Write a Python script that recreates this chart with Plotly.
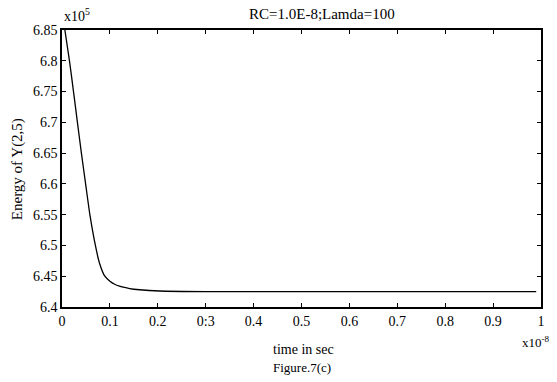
import plotly.graph_objects as go

# data (time in units of 1e-8 s, energy in units of 1e5)
time_vals = [0.006, 0.0156, 0.024, 0.0322, 0.0405, 0.0493, 0.0582, 0.0697, 0.078, 0.0894,
             0.100, 0.110, 0.120, 0.130, 0.141, 0.162, 0.204, 0.30, 0.50, 0.70, 0.90, 0.99]
energy_vals = [6.850, 6.800, 6.750, 6.700, 6.650, 6.600, 6.550, 6.500, 6.472, 6.450,
               6.442, 6.437, 6.434, 6.432, 6.430, 6.428, 6.426, 6.425, 6.425, 6.425, 6.425, 6.425]
x_ticks = [0, 0.1, 0.2, 0.3, 0.4, 0.5, 0.6, 0.7, 0.8, 0.9, 1]
x_tick_text = ["0", "0.1", "0.2", "0:3", "0.4", "0.5", "0.6", "0.7", "0.8", "0.9", "1"]
y_ticks = [6.4, 6.45, 6.5, 6.55, 6.6, 6.65, 6.7, 6.75, 6.8, 6.85]
y_tick_text = ["6.4", "6.45", "6.5", "6.55", "6.6", "6.65", "6.7", "6.75", "6.8", "6.85"]

FONT = "Liberation Serif, Times New Roman, serif"

fig = go.Figure()
fig.add_trace(go.Scatter(x=time_vals, y=energy_vals, mode="lines",
                         line=dict(color="black", width=1.3, shape="spline", smoothing=0.5),
                         showlegend=False, hoverinfo="skip"))

axis_common = dict(showgrid=False, zeroline=False, showline=True, linecolor="black",
                   linewidth=1.5, mirror="ticks", ticks="inside", ticklen=4,
                   tickcolor="black", tickwidth=1,
                   tickfont=dict(family=FONT, size=14, color="black"))

fig.update_layout(
    width=557, height=382,
    font=dict(family=FONT, size=13, color="black"),
    margin=dict(l=62, r=14, t=30, b=75),
    paper_bgcolor="white", plot_bgcolor="white",
    xaxis=dict(range=[0, 1], tickvals=x_ticks, ticktext=x_tick_text, **axis_common),
    yaxis=dict(range=[6.4, 6.85], tickvals=y_ticks, ticktext=y_tick_text, **axis_common),
)

ann_font = dict(family=FONT, size=13, color="black")
fig.add_annotation(text="RC=1.0E-8;Lamda=100", xref="paper", yref="paper",
                   x=(323 - 62) / 481, y=1 + 16 / 277, showarrow=False,
                   font=dict(family=FONT, size=15, color="black"),
                   xanchor="center", yanchor="middle")
fig.add_annotation(text="x10<sup>5</sup>", xref="paper", yref="paper",
                   x=0, y=1 + 15 / 277, showarrow=False,
                   font=dict(family=FONT, size=14, color="black"),
                   xanchor="left", yanchor="middle")
fig.add_annotation(text="x10<sup>-8</sup>", xref="paper", yref="paper",
                   x=(554 - 62) / 481, y=-(342 - 307) / 277, showarrow=False,
                   font=ann_font, xanchor="right", yanchor="middle")
fig.add_annotation(text="time in sec", xref="paper", yref="paper",
                   x=(272 - 62) / 481, y=-(349 - 307) / 277, showarrow=False,
                   font=dict(family=FONT, size=14, color="black"),
                   xanchor="left", yanchor="middle")
fig.add_annotation(text="Figure.7(c)", xref="paper", yref="paper",
                   x=(272 - 62) / 481, y=-(367 - 307) / 277, showarrow=False,
                   font=ann_font, xanchor="left", yanchor="middle")
fig.add_annotation(text="Energy of Y(2,5)", xref="paper", yref="paper",
                   x=-(62 - 17) / 481, y=(307 - 169) / 277, showarrow=False,
                   textangle=-90, font=dict(family=FONT, size=15, color="black"),
                   xanchor="center", yanchor="middle")

fig.write_html("out.html", config={"displayModeBar": False},
               post_script="document.body.style.margin='0';document.body.style.padding='0';")
